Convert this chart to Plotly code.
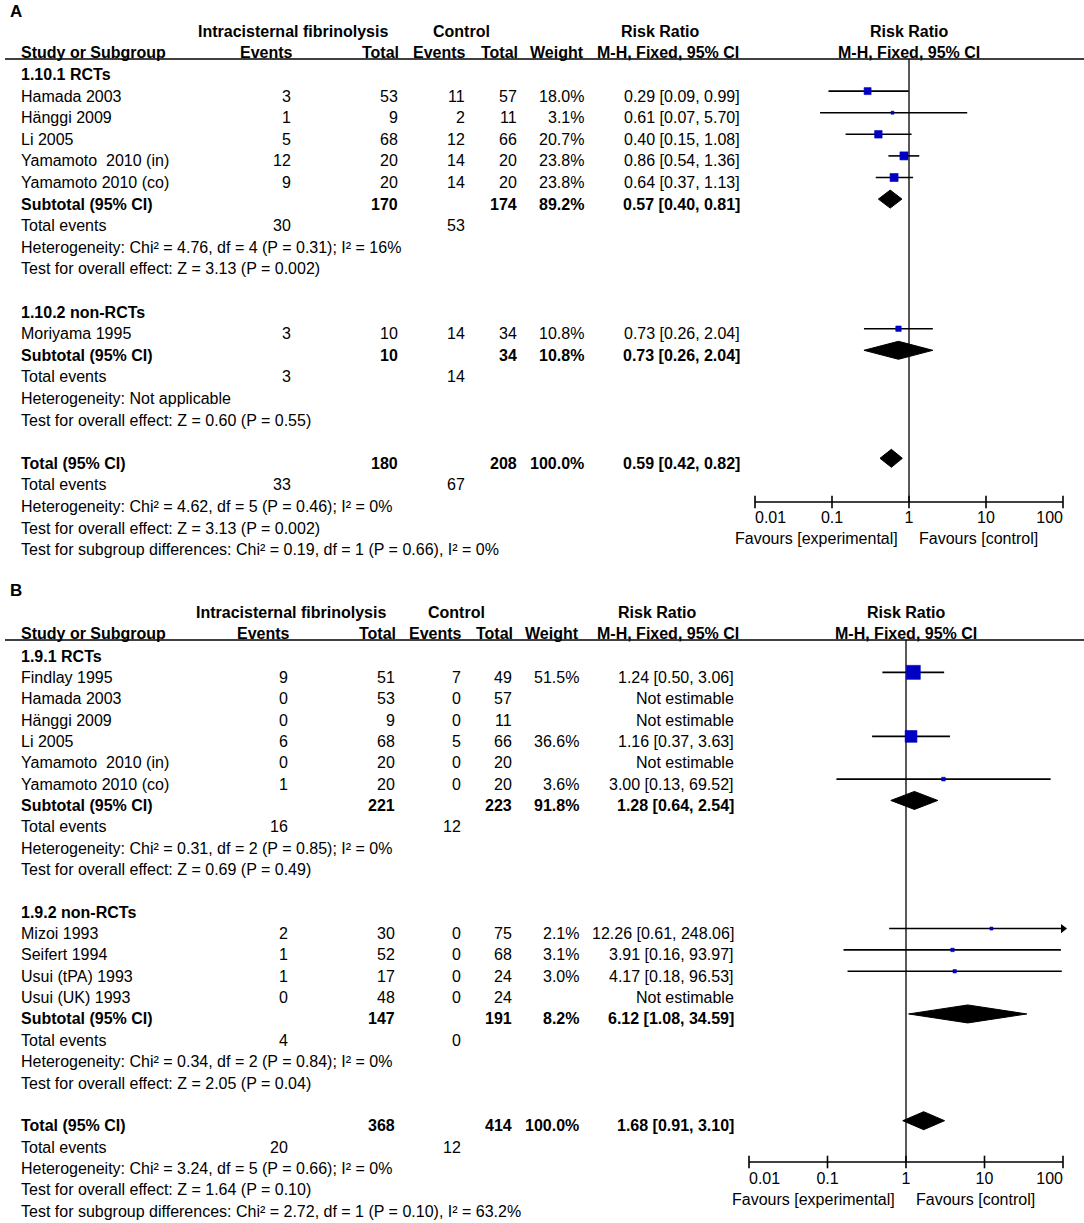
import math
import plotly.graph_objects as go

W, H = 1084, 1223
FONT = "Liberation Sans, Arial, sans-serif"
FS = 16
BLUE = "#0000C4"

# ------------------------- DATA : panel A -------------------------
A_GROUPS = ["1.10.1 RCTs", "1.10.2 non-RCTs"]
A_G1_STUDY = ["Hamada 2003", "Hänggi 2009", "Li 2005", "Yamamoto\u00a0 2010 (in)", "Yamamoto 2010 (co)"]
A_G1_EXP_EV = [3, 1, 5, 12, 9]
A_G1_EXP_N = [53, 9, 68, 20, 20]
A_G1_CTL_EV = [11, 2, 12, 14, 14]
A_G1_CTL_N = [57, 11, 66, 20, 20]
A_G1_WT = [18.0, 3.1, 20.7, 23.8, 23.8]
A_G1_RR = [0.29, 0.61, 0.40, 0.86, 0.64]
A_G1_LO = [0.09, 0.07, 0.15, 0.54, 0.37]
A_G1_HI = [0.99, 5.70, 1.08, 1.36, 1.13]

A_G2_STUDY = ["Moriyama 1995"]
A_G2_EXP_EV = [3]
A_G2_EXP_N = [10]
A_G2_CTL_EV = [14]
A_G2_CTL_N = [34]
A_G2_WT = [10.8]
A_G2_RR = [0.73]
A_G2_LO = [0.26]
A_G2_HI = [2.04]

A_SUB_EXP_N = [170, 10]
A_SUB_CTL_N = [174, 34]
A_SUB_WT = [89.2, 10.8]
A_SUB_RR = [0.57, 0.73]
A_SUB_LO = [0.40, 0.26]
A_SUB_HI = [0.81, 2.04]
A_SUB_EXP_EV = [30, 3]
A_SUB_CTL_EV = [53, 14]
A_SUB_HET = ["Heterogeneity: Chi² = 4.76, df = 4 (P = 0.31); I² = 16%", "Heterogeneity: Not applicable"]
A_SUB_TEST = ["Test for overall effect: Z = 3.13 (P = 0.002)", "Test for overall effect: Z = 0.60 (P = 0.55)"]

A_TOT_EXP_N, A_TOT_CTL_N, A_TOT_WT = 180, 208, 100.0
A_TOT_RR, A_TOT_LO, A_TOT_HI = 0.59, 0.42, 0.82
A_TOT_EXP_EV, A_TOT_CTL_EV = 33, 67
A_TOT_NOTES = ["Heterogeneity: Chi² = 4.62, df = 5 (P = 0.46); I² = 0%",
               "Test for overall effect: Z = 3.13 (P = 0.002)",
               "Test for subgroup differences: Chi² = 0.19, df = 1 (P = 0.66), I² = 0%"]

# ------------------------- DATA : panel B -------------------------
B_GROUPS = ["1.9.1 RCTs", "1.9.2 non-RCTs"]
B_G1_STUDY = ["Findlay 1995", "Hamada 2003", "Hänggi 2009", "Li 2005", "Yamamoto\u00a0 2010 (in)", "Yamamoto 2010 (co)"]
B_G1_EXP_EV = [9, 0, 0, 6, 0, 1]
B_G1_EXP_N = [51, 53, 9, 68, 20, 20]
B_G1_CTL_EV = [7, 0, 0, 5, 0, 0]
B_G1_CTL_N = [49, 57, 11, 66, 20, 20]
B_G1_WT = [51.5, None, None, 36.6, None, 3.6]
B_G1_RR = [1.24, None, None, 1.16, None, 3.00]
B_G1_LO = [0.50, None, None, 0.37, None, 0.13]
B_G1_HI = [3.06, None, None, 3.63, None, 69.52]

B_G2_STUDY = ["Mizoi 1993", "Seifert 1994", "Usui (tPA) 1993", "Usui (UK) 1993"]
B_G2_EXP_EV = [2, 1, 1, 0]
B_G2_EXP_N = [30, 52, 17, 48]
B_G2_CTL_EV = [0, 0, 0, 0]
B_G2_CTL_N = [75, 68, 24, 24]
B_G2_WT = [2.1, 3.1, 3.0, None]
B_G2_RR = [12.26, 3.91, 4.17, None]
B_G2_LO = [0.61, 0.16, 0.18, None]
B_G2_HI = [248.06, 93.97, 96.53, None]

B_SUB_EXP_N = [221, 147]
B_SUB_CTL_N = [223, 191]
B_SUB_WT = [91.8, 8.2]
B_SUB_RR = [1.28, 6.12]
B_SUB_LO = [0.64, 1.08]
B_SUB_HI = [2.54, 34.59]
B_SUB_EXP_EV = [16, 4]
B_SUB_CTL_EV = [12, 0]
B_SUB_HET = ["Heterogeneity: Chi² = 0.31, df = 2 (P = 0.85); I² = 0%",
             "Heterogeneity: Chi² = 0.34, df = 2 (P = 0.84); I² = 0%"]
B_SUB_TEST = ["Test for overall effect: Z = 0.69 (P = 0.49)",
              "Test for overall effect: Z = 2.05 (P = 0.04)"]

B_TOT_EXP_N, B_TOT_CTL_N, B_TOT_WT = 368, 414, 100.0
B_TOT_RR, B_TOT_LO, B_TOT_HI = 1.68, 0.91, 3.10
B_TOT_EXP_EV, B_TOT_CTL_EV = 20, 12
B_TOT_NOTES = ["Heterogeneity: Chi² = 3.24, df = 5 (P = 0.66); I² = 0%",
               "Test for overall effect: Z = 1.64 (P = 0.10)",
               "Test for subgroup differences: Chi² = 2.72, df = 1 (P = 0.10), I² = 63.2%"]

TICK_VALUES = [0.01, 0.1, 1, 10, 100]
TICK_LABELS = ["0.01", "0.1", "1", "10", "100"]
HEAD_EXP = "Intracisternal fibrinolysis"
HEAD_CTL = "Control"
HEAD_RR = "Risk Ratio"
HEAD_MH = "M-H, Fixed, 95% CI"
HEAD_COLS = ["Study or Subgroup", "Events", "Total", "Events", "Total", "Weight"]
FAV_LEFT = "Favours [experimental]"
FAV_RIGHT = "Favours [control]"

# ------------------------- build -------------------------
fig = go.Figure()
ann = []
shapes = []


def T(x, y, s, anchor="left", bold=False, size=FS):
    ann.append(dict(x=x / W, y=y, xref="paper", yref="y",
                    text=(f"<b>{s}</b>" if bold else s),
                    xanchor=anchor, yanchor="middle", showarrow=False,
                    font=dict(family=FONT, size=size, color="black")))


def ci_text(r, l, h):
    return f"{r:.2f} [{l:.2f}, {h:.2f}]"


def build(P, G):
    xa = G["xa"]
    c = G["cols"]
    one_px = G["ax_l"] + (0 - (-2)) / 4 * (G["ax_r"] - G["ax_l"])

    T(8, G["letter_y"], G["letter"], bold=True, size=17)
    T(c["intra"], G["h1"], HEAD_EXP, "center", True)
    T(c["ctrl"], G["h1"], HEAD_CTL, "center", True)
    T(c["rrh1"], G["h1"], HEAD_RR, "center", True)
    T(one_px, G["h1"], HEAD_RR, "center", True)
    T(c["study"], G["h2"], HEAD_COLS[0], "left", True)
    T(c["ev1"] + 2, G["h2"], HEAD_COLS[1], "right", True)
    T(c["tot1"] + 1, G["h2"], HEAD_COLS[2], "right", True)
    T(c["ev2"] + 1, G["h2"], HEAD_COLS[3], "right", True)
    T(c["tot2"] + 1, G["h2"], HEAD_COLS[4], "right", True)
    T(c["wt"], G["h2"], HEAD_COLS[5], "right", True)
    T(c["rrh2"], G["h2"], HEAD_MH, "center", True)
    T(one_px, G["h2"], HEAD_MH, "center", True)
    shapes.append(dict(type="line", xref="paper", yref="y", x0=5 / W, x1=1.0,
                       y0=G["hline"], y1=G["hline"], line=dict(color="black", width=1.6)))

    ci_x, ci_y = [], []
    sq_x, sq_y, sq_s = [], [], []
    dm_x, dm_y = [], []
    arr_x, arr_y = [], []

    def yrow(i):
        return G["y0"] + i * G["pitch"]

    def mark_y(i):
        return yrow(i) - 5

    def diamond(i, r, l, h):
        ym = mark_y(i)
        dm_x.extend([l, r, h, r, l, None])
        dm_y.extend([ym, ym - 9, ym, ym + 9, ym, None])

    i = 0
    for g in range(2):
        T(c["study"], yrow(i), P["groups"][g], bold=True)
        i += 1
        S = P["studies"][g]
        for k in range(len(S["name"])):
            y = yrow(i)
            T(c["study"], y, S["name"][k])
            T(c["ev1"], y, str(S["eev"][k]), "right")
            T(c["tot1"], y, str(S["en"][k]), "right")
            T(c["ev2"], y, str(S["cev"][k]), "right")
            T(c["tot2"], y, str(S["cn"][k]), "right")
            if S["rr"][k] is None:
                T(c["ci"], y, "Not estimable", "right")
            else:
                T(c["wt"], y, f"{S['wt'][k]:.1f}%", "right")
                T(c["ci"], y, ci_text(S["rr"][k], S["lo"][k], S["hi"][k]), "right")
                hi = S["hi"][k]
                if hi > TICK_VALUES[-1]:
                    hi = TICK_VALUES[-1]
                    arr_x.append(hi)
                    arr_y.append(mark_y(i))
                ci_x.extend([S["lo"][k], hi, None])
                ci_y.extend([mark_y(i), mark_y(i), None])
                sq_x.append(S["rr"][k])
                sq_y.append(mark_y(i))
                sq_s.append(max(3.0, G["sqk"] * math.sqrt(S["wt"][k])))
            i += 1
        y = yrow(i)
        T(c["study"], y, "Subtotal (95% CI)", bold=True)
        T(c["tot1"], y, str(P["sub_en"][g]), "right", True)
        T(c["tot2"], y, str(P["sub_cn"][g]), "right", True)
        T(c["wt"], y, f"{P['sub_wt'][g]:.1f}%", "right", True)
        T(c["ci"], y, ci_text(P["sub_rr"][g], P["sub_lo"][g], P["sub_hi"][g]), "right", True)
        diamond(i, P["sub_rr"][g], P["sub_lo"][g], P["sub_hi"][g])
        i += 1
        y = yrow(i)
        T(c["study"], y, "Total events")
        T(c["ev1"], y, str(P["sub_eev"][g]), "right")
        T(c["ev2"], y, str(P["sub_cev"][g]), "right")
        i += 1
        T(c["study"], yrow(i), P["sub_het"][g])
        i += 1
        T(c["study"], yrow(i), P["sub_test"][g])
        i += 2
    y = yrow(i)
    T(c["study"], y, "Total (95% CI)", bold=True)
    T(c["tot1"], y, str(P["tot_en"]), "right", True)
    T(c["tot2"], y, str(P["tot_cn"]), "right", True)
    T(c["wt"], y, f"{P['tot_wt']:.1f}%", "right", True)
    T(c["ci"], y, ci_text(P["tot_rr"], P["tot_lo"], P["tot_hi"]), "right", True)
    diamond(i, P["tot_rr"], P["tot_lo"], P["tot_hi"])
    i += 1
    y = yrow(i)
    T(c["study"], y, "Total events")
    T(c["ev1"], y, str(P["tot_eev"]), "right")
    T(c["ev2"], y, str(P["tot_cev"]), "right")
    i += 1
    for note in P["tot_notes"]:
        T(c["study"], yrow(i), note)
        i += 1

    common = dict(xaxis=xa, yaxis="y", showlegend=False, hoverinfo="skip", cliponaxis=False)
    fig.add_trace(go.Scatter(x=[1, 1], y=[G["hline"], G["axis_y"]], mode="lines",
                             line=dict(color="#222222", width=1.5), **common))
    fig.add_trace(go.Scatter(x=ci_x, y=ci_y, mode="lines",
                             line=dict(color="black", width=1.6), **common))
    if arr_x:
        fig.add_trace(go.Scatter(x=arr_x, y=arr_y, mode="markers",
                                 marker=dict(symbol="triangle-right", size=8, color="black",
                                             opacity=1), **common))
    fig.add_trace(go.Scatter(x=sq_x, y=sq_y, mode="markers", opacity=1,
                             marker=dict(symbol="square", size=sq_s, color=BLUE, opacity=1,
                                         line=dict(width=0.6, color=BLUE)), **common))
    fig.add_trace(go.Scatter(x=dm_x, y=dm_y, mode="lines", fill="toself",
                             fillcolor="black", line=dict(color="black", width=1), **common))
    ay = G["axis_y"]
    fig.add_trace(go.Scatter(x=[TICK_VALUES[0], TICK_VALUES[-1]], y=[ay, ay], mode="lines",
                             line=dict(color="black", width=1.6), **common))
    fig.add_trace(go.Scatter(x=TICK_VALUES, y=[ay] * len(TICK_VALUES), mode="markers",
                             marker=dict(symbol="line-ns", size=9,
                                         line=dict(color="black", width=1.6)), **common))
    pos = ["middle right"] + ["middle center"] * (len(TICK_VALUES) - 2) + ["middle left"]
    fig.add_trace(go.Scatter(x=TICK_VALUES, y=[G["tick_y"]] * len(TICK_VALUES), mode="text",
                             text=TICK_LABELS, textposition=pos,
                             textfont=dict(family=FONT, size=FS, color="black"), **common))
    T(one_px - 9, G["fav_y"], FAV_LEFT, "right")
    T(one_px + 8, G["fav_y"], FAV_RIGHT, "left")


PA = dict(groups=A_GROUPS,
          studies=[dict(name=A_G1_STUDY, eev=A_G1_EXP_EV, en=A_G1_EXP_N, cev=A_G1_CTL_EV, cn=A_G1_CTL_N,
                        wt=A_G1_WT, rr=A_G1_RR, lo=A_G1_LO, hi=A_G1_HI),
                   dict(name=A_G2_STUDY, eev=A_G2_EXP_EV, en=A_G2_EXP_N, cev=A_G2_CTL_EV, cn=A_G2_CTL_N,
                        wt=A_G2_WT, rr=A_G2_RR, lo=A_G2_LO, hi=A_G2_HI)],
          sub_en=A_SUB_EXP_N, sub_cn=A_SUB_CTL_N, sub_wt=A_SUB_WT, sub_rr=A_SUB_RR, sub_lo=A_SUB_LO,
          sub_hi=A_SUB_HI, sub_eev=A_SUB_EXP_EV, sub_cev=A_SUB_CTL_EV, sub_het=A_SUB_HET, sub_test=A_SUB_TEST,
          tot_en=A_TOT_EXP_N, tot_cn=A_TOT_CTL_N, tot_wt=A_TOT_WT, tot_rr=A_TOT_RR, tot_lo=A_TOT_LO,
          tot_hi=A_TOT_HI, tot_eev=A_TOT_EXP_EV, tot_cev=A_TOT_CTL_EV, tot_notes=A_TOT_NOTES)

PB = dict(groups=B_GROUPS,
          studies=[dict(name=B_G1_STUDY, eev=B_G1_EXP_EV, en=B_G1_EXP_N, cev=B_G1_CTL_EV, cn=B_G1_CTL_N,
                        wt=B_G1_WT, rr=B_G1_RR, lo=B_G1_LO, hi=B_G1_HI),
                   dict(name=B_G2_STUDY, eev=B_G2_EXP_EV, en=B_G2_EXP_N, cev=B_G2_CTL_EV, cn=B_G2_CTL_N,
                        wt=B_G2_WT, rr=B_G2_RR, lo=B_G2_LO, hi=B_G2_HI)],
          sub_en=B_SUB_EXP_N, sub_cn=B_SUB_CTL_N, sub_wt=B_SUB_WT, sub_rr=B_SUB_RR, sub_lo=B_SUB_LO,
          sub_hi=B_SUB_HI, sub_eev=B_SUB_EXP_EV, sub_cev=B_SUB_CTL_EV, sub_het=B_SUB_HET, sub_test=B_SUB_TEST,
          tot_en=B_TOT_EXP_N, tot_cn=B_TOT_CTL_N, tot_wt=B_TOT_WT, tot_rr=B_TOT_RR, tot_lo=B_TOT_LO,
          tot_hi=B_TOT_HI, tot_eev=B_TOT_EXP_EV, tot_cev=B_TOT_CTL_EV, tot_notes=B_TOT_NOTES)

GA = dict(xa="x", ax_l=755, ax_r=1063, letter="A", letter_y=11, h1=31, h2=52, hline=59,
          y0=74.5, pitch=21.6, axis_y=502, tick_y=519, fav_y=538, sqk=1.65,
          cols=dict(study=19, ev1=293, tot1=400, ev2=467, tot2=519, wt=586, ci=742,
                    intra=293, ctrl=461, rrh1=660, rrh2=668))
GB = dict(xa="x2", ax_l=749, ax_r=1063, letter="B", letter_y=590, h1=612, h2=633, hline=640,
          y0=656, pitch=21.35, axis_y=1162, tick_y=1180, fav_y=1199, sqk=1.95,
          cols=dict(study=19, ev1=290, tot1=397, ev2=463, tot2=514, wt=581, ci=736,
                    intra=291, ctrl=456, rrh1=657, rrh2=668))

build(PA, GA)
build(PB, GB)

fig.update_layout(
    width=W, height=H, margin=dict(l=0, r=0, t=0, b=0),
    paper_bgcolor="white", plot_bgcolor="rgba(0,0,0,0)",
    annotations=ann, shapes=shapes,
    xaxis=dict(type="log", range=[-2, 2], domain=[GA["ax_l"] / W, GA["ax_r"] / W],
               anchor="y", visible=False, fixedrange=True),
    xaxis2=dict(type="log", range=[-2, 2], domain=[GB["ax_l"] / W, GB["ax_r"] / W],
                anchor="y", visible=False, fixedrange=True),
    yaxis=dict(range=[H, 0], domain=[0, 1], visible=False, fixedrange=True),
    font=dict(family=FONT, size=FS, color="black"),
)

fig.write_html("out.html", post_script="document.body.style.margin='0px';",
               config={"displayModeBar": False})
